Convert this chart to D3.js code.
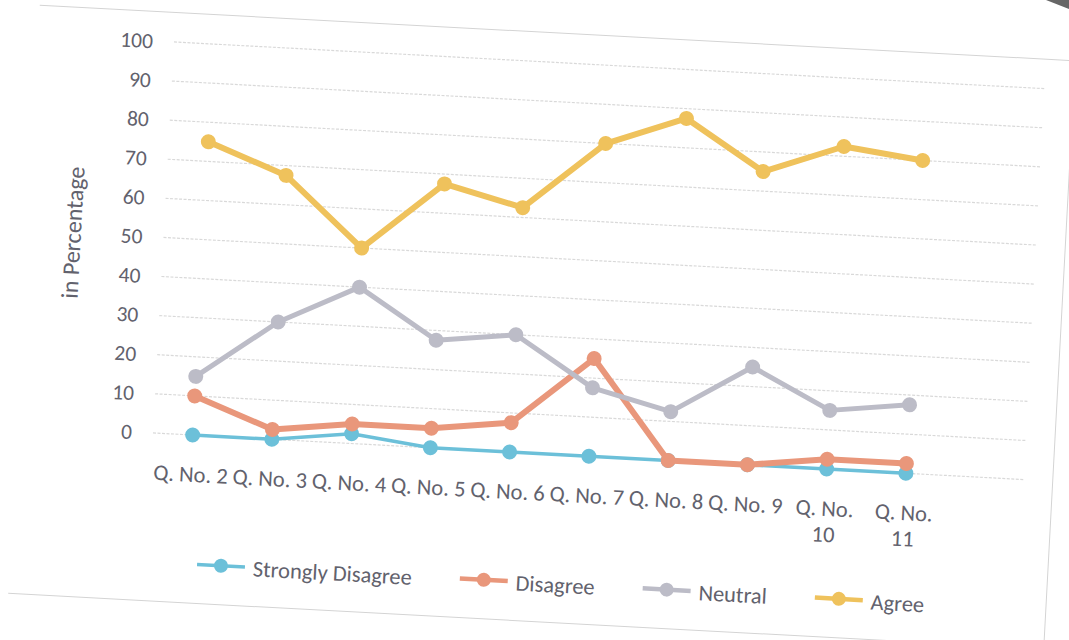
<!DOCTYPE html>
<html>
<head>
<meta charset="utf-8">
<script src="https://cdn.jsdelivr.net/npm/d3@7"></script>
<style>
  body { margin: 0; background: #ffffff; }
  svg { display: block; }
  text { font-family: Carlito, Lato, "Noto Sans", sans-serif; fill: #62626d; }
</style>
</head>
<body>
<svg id="chart" width="1069" height="640"></svg>
<script>
// ---------------- data ----------------
const categories = ["Q. No. 2", "Q. No. 3", "Q. No. 4", "Q. No. 5", "Q. No. 6",
                    "Q. No. 7", "Q. No. 8", "Q. No. 9", "Q. No. 10", "Q. No. 11"];
const stronglyDisagree = [0, 0, 2.5, 0, 0, 0, 0, 0, 0, 0];
const disagree         = [10, 2.5, 5, 5, 7.5, 25, 0, 0, 2.5, 2.5];
const neutral          = [15, 30, 40, 27.5, 30, 17.5, 12.5, 25, 15, 17.5];
const agree            = [75, 67.5, 50, 67.5, 62.5, 80, 87.5, 75, 82.5, 80];
const seriesNames  = ["Strongly Disagree", "Disagree", "Neutral", "Agree"];
const seriesColors = ["#6cc0d9", "#e9977b", "#bcbcc7", "#efc25c"];
const yTicks = [0, 10, 20, 30, 40, 50, 60, 70, 80, 90, 100];
const yTitle = "in Percentage";

const seriesValues = [stronglyDisagree, disagree, neutral, agree];
const series = seriesNames.map((name, i) => ({
  name, color: seriesColors[i],
  values: categories.map((c, j) => ({ cat: c, v: seriesValues[i][j] }))
}));

// ---------------- layout ----------------
const svg = d3.select("#chart");
const pivotX = 155, pivotY = 433;     // page is photographed slightly rotated
const tilt = 3.07;
const plot = { left: 153, right: 1026, top: 41.5, bottom: 433 };
const tickFont = 21.5, labelFont = 22.5, legendFont = 22.5;

// dark paper corner of the photo
svg.append("path")
  .attr("d", "M1046,0 L1069,0 L1069,9 Z")
  .attr("fill", "#666666");

const g = svg.append("g").attr("transform", `rotate(${tilt},${pivotX},${pivotY})`);

// chart area border (left edge not visible in the photo)
const bx0 = 17, by0 = 12, bx1 = 1054, by1 = 601;
g.append("path")
  .attr("d", `M${bx0},${by0} L${bx1},${by0} L${bx1},${by1} L${bx0},${by1}`)
  .attr("fill", "none").attr("stroke", "#d4d4d4").attr("stroke-width", 1);

const x = d3.scaleBand()
  .domain([...categories, ""])       // one empty slot at the end, as in the original
  .range([plot.left, plot.right])
  .padding(0);
const cx = c => x(c) + x.bandwidth() / 2;

const y = d3.scaleLinear().domain([0, 100]).range([plot.bottom, plot.top]);

// gridlines
g.append("g").selectAll("line").data(yTicks).join("line")
  .attr("x1", plot.left).attr("x2", plot.right)
  .attr("y1", d => y(d)).attr("y2", d => y(d))
  .attr("stroke", "#d9d9d9").attr("stroke-width", 1.2)
  .attr("stroke-dasharray", "3,1.5");

// y axis labels via d3 axis (no domain/ticks)
const yAxis = g.append("g")
  .attr("transform", `translate(${plot.left},0)`)
  .call(d3.axisLeft(y).tickValues(yTicks).tickSize(0).tickPadding(21));
yAxis.select(".domain").remove();
yAxis.selectAll("text")
  .attr("font-size", tickFont)
  .style("font-family", "Carlito, Lato, sans-serif")
  .attr("fill", "#62626d");

// y title
g.append("text")
  .attr("transform", `translate(${plot.left - 91},${(y(0) + y(100)) / 2}) rotate(-90)`)
  .attr("text-anchor", "middle").attr("dy", "0.35em")
  .attr("font-size", 24)
  .text(yTitle);

// x axis labels
const xLab = g.append("g");
categories.forEach(c => {
  const t = xLab.append("text")
    .attr("x", cx(c)).attr("y", plot.bottom + 39)
    .attr("text-anchor", "middle").attr("dy", "0.35em")
    .attr("font-size", labelFont)
    .text(c);
  if (t.node().getComputedTextLength() > x.bandwidth() + 3) {
    const idx = c.lastIndexOf(" ");
    t.text(c.slice(0, idx));
    xLab.append("text")
      .attr("x", cx(c)).attr("y", plot.bottom + 39 + 26)
      .attr("text-anchor", "middle").attr("dy", "0.35em")
      .attr("font-size", labelFont)
      .text(c.slice(idx + 1));
  }
});

// series lines & markers
const widths = [3.5, 6, 5, 6];
const line = d3.line().x(d => cx(d.cat)).y(d => y(d.v));
series.forEach((s, i) => {
  const sg = g.append("g");
  sg.append("path").datum(s.values)
    .attr("d", line).attr("fill", "none")
    .attr("stroke", s.color).attr("stroke-width", widths[i])
    .attr("stroke-linejoin", "round").attr("stroke-linecap", "round");
  sg.selectAll("circle").data(s.values).join("circle")
    .attr("cx", d => cx(d.cat)).attr("cy", d => y(d.v))
    .attr("r", 7.5).attr("fill", s.color);
});

// legend
const legY = plot.bottom + 129;
let lx = 204;
series.forEach((s, i) => {
  const lg = g.append("g").attr("transform", `translate(${lx},${legY})`);
  lg.append("line").attr("x1", 0).attr("x2", 48).attr("y1", 0).attr("y2", 0)
    .attr("stroke", s.color).attr("stroke-width", widths[i] === 3.5 ? 3.5 : 4.5);
  lg.append("circle").attr("cx", 24).attr("cy", 0).attr("r", 7).attr("fill", s.color);
  const t = lg.append("text").attr("x", 56).attr("y", 1).attr("dy", "0.35em")
    .attr("font-size", legendFont).text(s.name);
  lx += 56 + t.node().getComputedTextLength() + 48;
});
</script>
</body>
</html>
